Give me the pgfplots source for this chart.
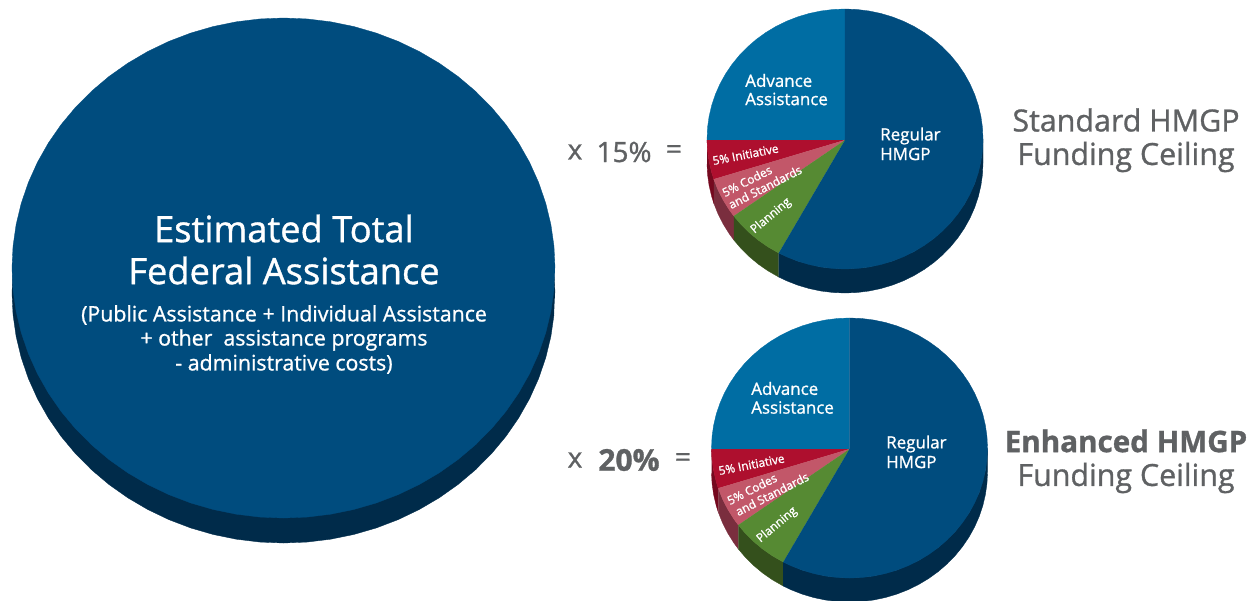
\documentclass[border=0pt]{standalone}
\usepackage{fontspec}
\setmainfont{Open Sans}[FakeBold=1.0]
\usepackage{pgfplots}
\usepackage{pgfplotstable}
\pgfplotsset{compat=1.18}

\definecolor{mainblue}{HTML}{004C7E}
\definecolor{lightblue}{HTML}{006DA3}
\definecolor{darkblue}{HTML}{002B4A}
\definecolor{redtop}{HTML}{AE0F2E}
\definecolor{redside}{HTML}{75091F}
\definecolor{pinktop}{HTML}{C25769}
\definecolor{pinkside}{HTML}{7A2E3E}
\definecolor{greentop}{HTML}{568A33}
\definecolor{greenside}{HTML}{34501C}
\definecolor{greytext}{HTML}{5F6163}

% slices: a = angle on the rim, r = radius factor, d = drop in pixels
\pgfplotstableread[row sep=\\]{a r d\\ 90 1 0\\ 95 1 0\\ 100 1 0\\ 105 1 0\\ 110 1 0\\ 115 1 0\\ 120 1 0\\ 125 1 0\\ 130 1 0\\ 135 1 0\\ 140 1 0\\ 145 1 0\\ 150 1 0\\ 155 1 0\\ 160 1 0\\ 165 1 0\\ 170 1 0\\ 175 1 0\\ 180.5 1 0\\ 0 0 1\\}\tabAdvance
\pgfplotstableread[row sep=\\]{a r d\\ 180.5 1 0\\ 185 1 0\\ 190 1 0\\ 195 1 0\\ 198 1 0\\ 0 0 1\\}\tabInitiative
\pgfplotstableread[row sep=\\]{a r d\\ 198 1 0\\ 203 1 0\\ 208 1 0\\ 213 1 0\\ 216.3 1 0\\ 0 0 1\\}\tabCodes
\pgfplotstableread[row sep=\\]{a r d\\ 216.3 1 0\\ 221 1 0\\ 226 1 0\\ 231 1 0\\ 236 1 0\\ 241.3 1 0\\ 0 0 1\\}\tabPlanning
\pgfplotstableread[row sep=\\]{a r d\\ 241.3 1 0\\ 245 1 0\\ 250 1 0\\ 255 1 0\\ 260 1 0\\ 265 1 0\\ 270 1 0\\ 275 1 0\\ 280 1 0\\ 285 1 0\\ 290 1 0\\ 295 1 0\\ 300 1 0\\ 305 1 0\\ 310 1 0\\ 315 1 0\\ 320 1 0\\ 325 1 0\\ 330 1 0\\ 335 1 0\\ 340 1 0\\ 345 1 0\\ 350 1 0\\ 355 1 0\\ 360 1 0\\ 365 1 0\\ 370 1 0\\ 375 1 0\\ 380 1 0\\ 385 1 0\\ 390 1 0\\ 395 1 0\\ 400 1 0\\ 405 1 0\\ 410 1 0\\ 415 1 0\\ 420 1 0\\ 425 1 0\\ 430 1 0\\ 435 1 0\\ 440 1 0\\ 445 1 0\\ 450 1 0\\ 0 0 1\\}\tabRegular

% the rims of the same slices, with the drop of the side wall
\pgfplotstableread[row sep=\\]{a r d\\ 180.5 1 0\\ 185 1 0\\ 190 1 0\\ 195 1 0\\ 198 1 0\\ 198 1 24\\ 195 1 24\\ 190 1 24\\ 185 1 24\\ 180.5 1 24\\}\tabInitiativeSide
\pgfplotstableread[row sep=\\]{a r d\\ 198 1 0\\ 203 1 0\\ 208 1 0\\ 213 1 0\\ 216.3 1 0\\ 216.3 1 24\\ 213 1 24\\ 208 1 24\\ 203 1 24\\ 198 1 24\\}\tabCodesSide
\pgfplotstableread[row sep=\\]{a r d\\ 216.3 1 0\\ 221 1 0\\ 226 1 0\\ 231 1 0\\ 236 1 0\\ 241.3 1 0\\ 241.3 1 24\\ 236 1 24\\ 231 1 24\\ 226 1 24\\ 221 1 24\\ 216.3 1 24\\}\tabPlanningSide
\pgfplotstableread[row sep=\\]{a r d\\ 241.3 1 0\\ 250 1 0\\ 260 1 0\\ 270 1 0\\ 280 1 0\\ 290 1 0\\ 300 1 0\\ 310 1 0\\ 320 1 0\\ 330 1 0\\ 340 1 0\\ 350 1 0\\ 360 1 0\\ 360 1 24\\ 355 1 24\\ 350 1 24\\ 345 1 24\\ 340 1 24\\ 335 1 24\\ 330 1 24\\ 325 1 24\\ 320 1 24\\ 315 1 24\\ 310 1 24\\ 305 1 24\\ 300 1 24\\ 295 1 24\\ 290 1 24\\ 285 1 24\\ 280 1 24\\ 275 1 24\\ 270 1 24\\ 265 1 24\\ 260 1 24\\ 255 1 24\\ 250 1 24\\ 245 1 24\\ 241.3 1 24\\}\tabRegularSide

\pgfplotstableread[row sep=\\]{a r d\\ 0 1 0\\ 5 1 0\\ 10 1 0\\ 15 1 0\\ 20 1 0\\ 25 1 0\\ 30 1 0\\ 35 1 0\\ 40 1 0\\ 45 1 0\\ 50 1 0\\ 55 1 0\\ 60 1 0\\ 65 1 0\\ 70 1 0\\ 75 1 0\\ 80 1 0\\ 85 1 0\\ 90 1 0\\ 95 1 0\\ 100 1 0\\ 105 1 0\\ 110 1 0\\ 115 1 0\\ 120 1 0\\ 125 1 0\\ 130 1 0\\ 135 1 0\\ 140 1 0\\ 145 1 0\\ 150 1 0\\ 155 1 0\\ 160 1 0\\ 165 1 0\\ 170 1 0\\ 175 1 0\\ 180 1 0\\ 185 1 0\\ 190 1 0\\ 195 1 0\\ 200 1 0\\ 205 1 0\\ 210 1 0\\ 215 1 0\\ 220 1 0\\ 225 1 0\\ 230 1 0\\ 235 1 0\\ 240 1 0\\ 245 1 0\\ 250 1 0\\ 255 1 0\\ 260 1 0\\ 265 1 0\\ 270 1 0\\ 275 1 0\\ 280 1 0\\ 285 1 0\\ 290 1 0\\ 295 1 0\\ 300 1 0\\ 305 1 0\\ 310 1 0\\ 315 1 0\\ 320 1 0\\ 325 1 0\\ 330 1 0\\ 335 1 0\\ 340 1 0\\ 345 1 0\\ 350 1 0\\ 355 1 0\\}\tabDisc

% #1,#2 centre  #3,#4 radii  #5 colour  #6 table
\newcommand{\slicepart}[6]{%
  \addplot[draw=#5,line width=0.25pt,fill=#5,mark=none,forget plot]
    table[x expr={#1+#3*\thisrow{r}*cos(\thisrow{a})},
          y expr={#2-#4*\thisrow{r}*sin(\thisrow{a})+\thisrow{d}}] {#6};
}
\newcommand{\piechart}[4]{%
  \slicepart{#1}{#2}{#3}{#4}{redside}{\tabInitiativeSide}
  \slicepart{#1}{#2}{#3}{#4}{pinkside}{\tabCodesSide}
  \slicepart{#1}{#2}{#3}{#4}{greenside}{\tabPlanningSide}
  \slicepart{#1}{#2}{#3}{#4}{darkblue}{\tabRegularSide}
  \slicepart{#1}{#2}{#3}{#4}{lightblue}{\tabAdvance}
  \slicepart{#1}{#2}{#3}{#4}{redtop}{\tabInitiative}
  \slicepart{#1}{#2}{#3}{#4}{pinktop}{\tabCodes}
  \slicepart{#1}{#2}{#3}{#4}{greentop}{\tabPlanning}
  \slicepart{#1}{#2}{#3}{#4}{mainblue}{\tabRegular}
}
\tikzset{
  big/.style={white,inner sep=0pt,font=\fontsize{27.2}{27.2}\selectfont},
  sub/.style={white,inner sep=0pt,font=\fontsize{16}{16}\selectfont},
  lab/.style={white,inner sep=0pt,anchor=west,font=\fontsize{12.7}{12.7}\selectfont},
  tiny/.style={white,inner sep=0pt,font=\fontsize{8.9}{8.9}\selectfont},
  sign/.style={greytext,inner sep=0pt,font=\fontsize{21}{21}\selectfont},
  side/.style={greytext,inner sep=0pt,font=\fontsize{22.8}{22.8}\selectfont},
}

\begin{document}
\begin{tikzpicture}
\useasboundingbox (0,0) rectangle (941.25pt,450pt);
\begin{axis}[
    at={(0,0)},anchor=south west,
    scale only axis,
    width=941.25pt,height=450pt,
    xmin=0,xmax=1255,ymin=0,ymax=600,
    y dir=reverse,
    hide axis,
    clip=true,
  ]
  % big disc
  \slicepart{283.5}{293}{271.5}{250}{darkblue}{\tabDisc}
  \slicepart{283.5}{268}{271.5}{250}{mainblue}{\tabDisc}
  % the two pies
  \piechart{845}{139}{138}{130}
  \piechart{849.5}{448}{138}{130}

  \node[big] at (axis cs:284,228.5) {Estimated Total};
  \node[big] at (axis cs:284,270.5) {Federal Assistance};
  \node[sub] at (axis cs:284,315) {(Public Assistance + Individual Assistance};
  \node[sub] at (axis cs:284,340) {+ other\ \ assistance programs};
  \node[sub] at (axis cs:284,364) {- administrative costs)};

  \node[lab] at (axis cs:745,80.5) {Advance};
  \node[lab] at (axis cs:745,99) {Assistance};
  \node[lab] at (axis cs:880,136) {Regular};
  \node[lab] at (axis cs:880,154) {HMGP};
  \node[tiny,rotate=11] at (axis cs:745.5,154.5) {5\% Initiative};
  \node[tiny,rotate=27] at (axis cs:747,181) {5\% Codes};
  \node[tiny,rotate=27] at (axis cs:765,187) {and Standards};
  \node[tiny,rotate=40] at (axis cs:771,216) {Planning};

  \node[lab] at (axis cs:751,388.5) {Advance};
  \node[lab] at (axis cs:751,407.5) {Assistance};
  \node[lab] at (axis cs:886,444) {Regular};
  \node[lab] at (axis cs:886,462) {HMGP};
  \node[tiny,rotate=11] at (axis cs:751.5,464.5) {5\% Initiative};
  \node[tiny,rotate=27] at (axis cs:752,489) {5\% Codes};
  \node[tiny,rotate=27] at (axis cs:772,494) {and Standards};
  \node[tiny,rotate=40] at (axis cs:777,525) {Planning};

  \node[sign] at (axis cs:575,152) {x};
  \node[sign] at (axis cs:624,152) {15\%};
  \node[sign] at (axis cs:674,152) {=};
  \node[sign] at (axis cs:575,460) {x};
  \node[sign,font=\fontsize{22.5}{22.5}\selectfont\bfseries] at (axis cs:629,460) {20\%};
  \node[sign] at (axis cs:683,460) {=};

  \node[side] at (axis cs:1126,120) {Standard HMGP};
  \node[side] at (axis cs:1126,157) {Funding Ceiling};
  \node[side,font=\fontsize{22.2}{22.2}\selectfont\bfseries] at (axis cs:1126,441) {Enhanced HMGP};
  \node[side] at (axis cs:1126,478) {Funding Ceiling};
\end{axis}
\end{tikzpicture}
\end{document}
